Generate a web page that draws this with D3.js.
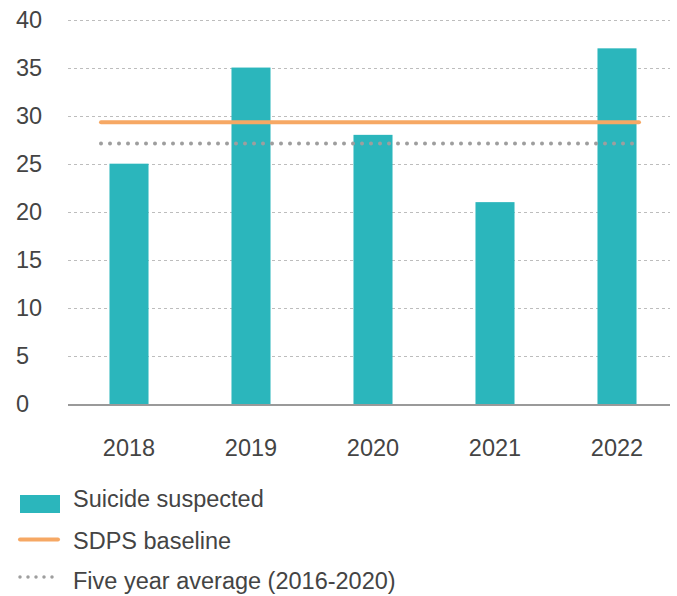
<!DOCTYPE html>
<html>
<head>
<meta charset="utf-8">
<script src="https://cdn.jsdelivr.net/npm/d3@7/dist/d3.min.js"></script>
<style>
  html, body { margin: 0; padding: 0; background: #fff; }
  svg { display: block; font-family: "Liberation Sans", Arial, Helvetica, sans-serif; }
</style>
</head>
<body>
<svg id="chart" width="677" height="596"></svg>
<script>
// Suicide suspected counts by year
const years = ["2018", "2019", "2020", "2021", "2022"];
const suicideSuspected = [25, 35, 28, 21, 37];
// Reference levels
const sdpsBaseline = 29.3;
const fiveYearAverage = 27.1;
const yTicks = [0, 5, 10, 15, 20, 25, 30, 35, 40];
const legendLabels = ["Suicide suspected", "SDPS baseline", "Five year average (2016-2020)"];

const teal = "#2bb6bc";
const orange = "#f6a864";
const dotGrey = "#9e9e9e";
const textColor = "#444";
const fontSize = 23.5;

const svg = d3.select("#chart");

const x = d3.scaleBand().domain(years).range([68, 678]).paddingInner(0.68).paddingOuter(0.34);
const y = d3.scaleLinear().domain([0, 40]).range([404, 19.5]);
const plotLeft = 68, plotRight = 670;

// Grid lines
svg.append("g")
  .selectAll("line")
  .data(yTicks.filter(d => d > 0))
  .join("line")
  .attr("x1", plotLeft).attr("x2", plotRight)
  .attr("y1", d => Math.round(y(d)) + 0.5).attr("y2", d => Math.round(y(d)) + 0.5)
  .attr("stroke", "#bdbdbd").attr("stroke-width", 1)
  .attr("stroke-dasharray", "3,3");

// Y tick labels
svg.append("g")
  .selectAll("text")
  .data(yTicks)
  .join("text")
  .attr("x", 16)
  .attr("y", d => y(d) + 8.3)
  .attr("fill", textColor)
  .attr("font-size", fontSize)
  .text(d => d);

// Bars
svg.append("g")
  .selectAll("rect")
  .data(years)
  .join("rect")
  .attr("x", d => x(d))
  .attr("width", x.bandwidth())
  .attr("y", (d, i) => y(suicideSuspected[i]))
  .attr("height", (d, i) => y(0) - y(suicideSuspected[i]))
  .attr("fill", teal);

// Baseline axis
svg.append("line")
  .attr("x1", plotLeft).attr("x2", plotRight)
  .attr("y1", y(0) + 1).attr("y2", y(0) + 1)
  .attr("stroke", "#9a9a9a").attr("stroke-width", 2);

// X labels
svg.append("g")
  .selectAll("text")
  .data(years)
  .join("text")
  .attr("x", d => x(d) + x.bandwidth() / 2)
  .attr("y", 456)
  .attr("text-anchor", "middle")
  .attr("fill", textColor)
  .attr("font-size", fontSize)
  .text(d => d);

const lineX1 = 101, lineX2 = 639;

// Five year average (dotted)
svg.append("line")
  .attr("x1", lineX1).attr("x2", lineX2)
  .attr("y1", y(fiveYearAverage)).attr("y2", y(fiveYearAverage))
  .attr("stroke", dotGrey).attr("stroke-width", 4)
  .attr("stroke-linecap", "round").attr("stroke-dasharray", "0,9");

// SDPS baseline
svg.append("line")
  .attr("x1", lineX1).attr("x2", lineX2)
  .attr("y1", y(sdpsBaseline)).attr("y2", y(sdpsBaseline))
  .attr("stroke", orange).attr("stroke-width", 4)
  .attr("stroke-linecap", "round");

// Legend
const legend = svg.append("g");
legend.append("rect")
  .attr("x", 20).attr("y", 495).attr("width", 40).attr("height", 18)
  .attr("fill", teal);
legend.append("line")
  .attr("x1", 20).attr("x2", 58).attr("y1", 539.5).attr("y2", 539.5)
  .attr("stroke", orange).attr("stroke-width", 4).attr("stroke-linecap", "round");
legend.append("line")
  .attr("x1", 20).attr("x2", 60).attr("y1", 577).attr("y2", 577)
  .attr("stroke", dotGrey).attr("stroke-width", 3.5)
  .attr("stroke-linecap", "round").attr("stroke-dasharray", "0,8");

legend.selectAll("text")
  .data(legendLabels)
  .join("text")
  .attr("x", 73)
  .attr("y", (d, i) => [506.5, 548.5, 588.5][i])
  .attr("fill", textColor)
  .attr("font-size", fontSize)
  .text(d => d);
</script>
</body>
</html>
